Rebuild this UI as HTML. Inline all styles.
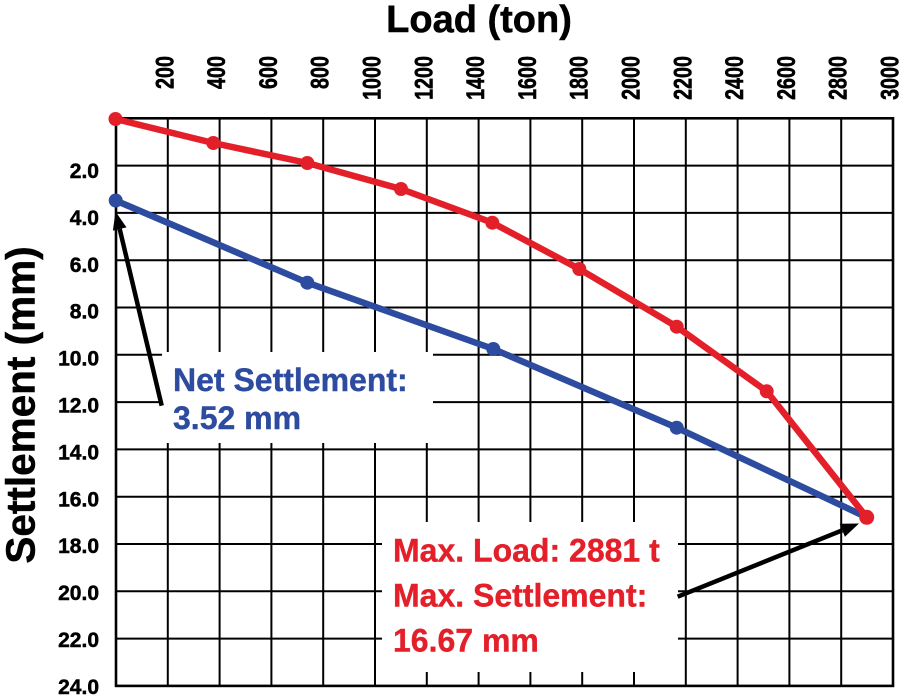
<!DOCTYPE html>
<html>
<head>
<meta charset="utf-8">
<style>
  html, body { margin: 0; padding: 0; background: #ffffff; }
  svg { display: block; }
  text { font-family: "Liberation Sans", Arial, sans-serif; font-weight: bold; }
</style>
</head>
<body>
<svg width="906" height="698" viewBox="0 0 906 698" xmlns="http://www.w3.org/2000/svg">
  <rect x="0" y="0" width="906" height="698" fill="#ffffff"/>

  <!-- Grid -->
  <g stroke="#000" stroke-width="2" fill="none">
    <line x1="167.8" y1="118.3" x2="167.8" y2="686"/>
    <line x1="219.6" y1="118.3" x2="219.6" y2="686"/>
    <line x1="271.4" y1="118.3" x2="271.4" y2="686"/>
    <line x1="323.2" y1="118.3" x2="323.2" y2="686"/>
    <line x1="375.0" y1="118.3" x2="375.0" y2="686"/>
    <line x1="426.8" y1="118.3" x2="426.8" y2="686"/>
    <line x1="478.6" y1="118.3" x2="478.6" y2="686"/>
    <line x1="530.4" y1="118.3" x2="530.4" y2="686"/>
    <line x1="582.2" y1="118.3" x2="582.2" y2="686"/>
    <line x1="634.0" y1="118.3" x2="634.0" y2="686"/>
    <line x1="685.8" y1="118.3" x2="685.8" y2="686"/>
    <line x1="737.6" y1="118.3" x2="737.6" y2="686"/>
    <line x1="789.4" y1="118.3" x2="789.4" y2="686"/>
    <line x1="841.2" y1="118.3" x2="841.2" y2="686"/>

    <line x1="116" y1="165.6" x2="893" y2="165.6"/>
    <line x1="116" y1="212.9" x2="893" y2="212.9"/>
    <line x1="116" y1="260.2" x2="893" y2="260.2"/>
    <line x1="116" y1="307.5" x2="893" y2="307.5"/>
    <line x1="116" y1="354.8" x2="893" y2="354.8"/>
    <line x1="116" y1="402.1" x2="893" y2="402.1"/>
    <line x1="116" y1="449.4" x2="893" y2="449.4"/>
    <line x1="116" y1="496.7" x2="893" y2="496.7"/>
    <line x1="116" y1="544.0" x2="893" y2="544.0"/>
    <line x1="116" y1="591.3" x2="893" y2="591.3"/>
    <line x1="116" y1="638.6" x2="893" y2="638.6"/>
  </g>
  <!-- Outer frame -->
  <rect x="116" y="118.3" width="777" height="567.6" fill="none" stroke="#000" stroke-width="2.6"/>

  <!-- White annotation boxes -->
  <rect x="162" y="352" width="271" height="91" fill="#ffffff"/>
  <rect x="382" y="522" width="296" height="150" fill="#ffffff"/>

  <!-- Blue series -->
  <polyline points="115.7,200.5 307.3,282.7 493.3,349 676.7,427.7 864,516" fill="none" stroke="#2D4B9F" stroke-width="6.5" stroke-linejoin="round" stroke-linecap="round"/>
  <g fill="#2D4B9F">
    <circle cx="115.7" cy="200.5" r="7"/>
    <circle cx="307.3" cy="282.7" r="7"/>
    <circle cx="493.3" cy="349" r="7"/>
    <circle cx="676.7" cy="427.7" r="7"/>
  </g>

  <!-- Red series -->
  <polyline points="115.5,119 213.3,143 307.3,163 401,189 492.3,222.7 579.3,269 676.7,326.7 766.7,391.3 866.7,517.3" fill="none" stroke="#E3202A" stroke-width="6.5" stroke-linejoin="round" stroke-linecap="round"/>
  <g fill="#E3202A">
    <circle cx="115.5" cy="119" r="7"/>
    <circle cx="213.3" cy="143" r="7"/>
    <circle cx="307.3" cy="163" r="7"/>
    <circle cx="401" cy="189" r="7"/>
    <circle cx="492.3" cy="222.7" r="7"/>
    <circle cx="579.3" cy="269" r="7"/>
    <circle cx="676.7" cy="326.7" r="7"/>
    <circle cx="766.7" cy="391.3" r="7"/>
    <circle cx="866.7" cy="517.3" r="7.5"/>
  </g>

  <!-- Arrows -->
  <line x1="161.7" y1="405.7" x2="119.7" y2="229" stroke="#000" stroke-width="4.5"/>
  <polygon points="115.5,211.5 126.5,227.4 112.9,230.6" fill="#000"/>
  <line x1="677.7" y1="596.7" x2="842.3" y2="530.3" stroke="#000" stroke-width="4.5"/>
  <polygon points="859,523.5 844.9,536.7 839.7,523.8" fill="#000"/>

  <!-- Axis titles -->
  <text x="479" y="32" font-size="38" text-anchor="middle" fill="#000" stroke="#000" stroke-width="0.5">Load (ton)</text>
  <text transform="translate(34.5,405) rotate(-90)" font-size="40.5" text-anchor="middle" fill="#000" stroke="#000" stroke-width="0.5">Settlement (mm)</text>

  <!-- X tick labels (rotated) -->
  <g font-size="25" fill="#000" text-anchor="end" stroke="#000" stroke-width="0.6">
    <text transform="translate(173.3,56) rotate(-90) scale(0.79,1)">200</text>
    <text transform="translate(225.1,56) rotate(-90) scale(0.79,1)">400</text>
    <text transform="translate(276.9,56) rotate(-90) scale(0.79,1)">600</text>
    <text transform="translate(328.7,56) rotate(-90) scale(0.79,1)">800</text>
    <text transform="translate(380.5,56) rotate(-90) scale(0.79,1)">1000</text>
    <text transform="translate(432.3,56) rotate(-90) scale(0.79,1)">1200</text>
    <text transform="translate(484.1,56) rotate(-90) scale(0.79,1)">1400</text>
    <text transform="translate(535.9,56) rotate(-90) scale(0.79,1)">1600</text>
    <text transform="translate(587.7,56) rotate(-90) scale(0.79,1)">1800</text>
    <text transform="translate(639.5,56) rotate(-90) scale(0.79,1)">2000</text>
    <text transform="translate(691.3,56) rotate(-90) scale(0.79,1)">2200</text>
    <text transform="translate(743.1,56) rotate(-90) scale(0.79,1)">2400</text>
    <text transform="translate(794.9,56) rotate(-90) scale(0.79,1)">2600</text>
    <text transform="translate(846.7,56) rotate(-90) scale(0.79,1)">2800</text>
    <text transform="translate(898.5,56) rotate(-90) scale(0.79,1)">3000</text>
  </g>

  <!-- Y tick labels -->
  <g font-size="21" fill="#000" text-anchor="end" stroke="#000" stroke-width="0.5">
    <text x="99" y="178">2.0</text>
    <text x="99" y="224.9">4.0</text>
    <text x="99" y="271.8">6.0</text>
    <text x="99" y="318.7">8.0</text>
    <text x="99" y="365.6">10.0</text>
    <text x="99" y="412.5">12.0</text>
    <text x="99" y="459.4">14.0</text>
    <text x="99" y="506.3">16.0</text>
    <text x="99" y="553.2">18.0</text>
    <text x="99" y="600.1">20.0</text>
    <text x="99" y="647">22.0</text>
    <text x="99" y="693.9">24.0</text>
  </g>

  <!-- Annotations -->
  <g font-size="32" fill="#2D4B9F" stroke="#2D4B9F" stroke-width="0.4">
    <text x="173" y="391">Net Settlement:</text>
    <text x="173" y="429">3.52 mm</text>
  </g>
  <g font-size="32" fill="#E3202A" stroke="#E3202A" stroke-width="0.4">
    <text x="393" y="561.7">Max. Load: 2881 t</text>
    <text x="393" y="606.7">Max. Settlement:</text>
    <text x="393" y="651.7">16.67 mm</text>
  </g>
</svg>
</body>
</html>
